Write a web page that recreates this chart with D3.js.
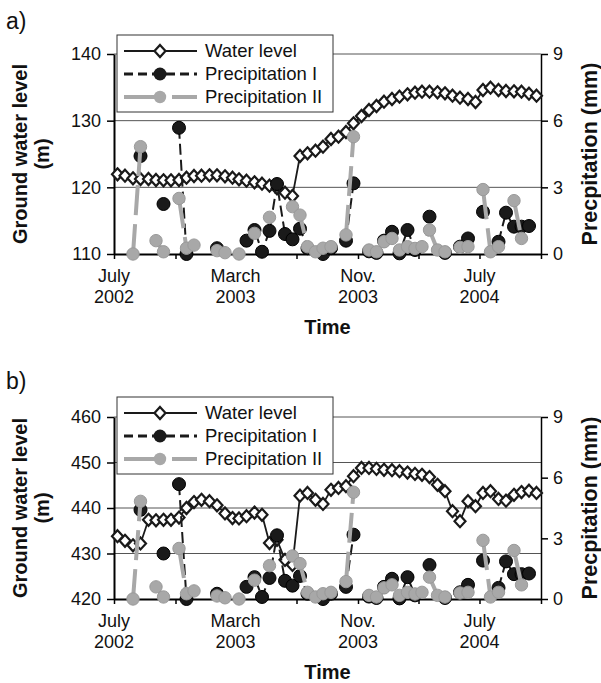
<!DOCTYPE html>
<html>
<head>
<meta charset="utf-8">
<script src="https://cdn.jsdelivr.net/npm/d3@7"></script>
<style>
body { margin: 0; background: #fff; }
text { font-family: "Liberation Sans", Arial, sans-serif; fill: #111; }
</style>
</head>
<body>
<svg id="chart" width="601" height="683"></svg>
<script>
// semi-monthly observation dates
var dates = [
  "2002-07-08","2002-07-23","2002-08-08","2002-08-23","2002-09-08","2002-09-23",
  "2002-10-08","2002-10-23","2002-11-08","2002-11-23","2002-12-08","2002-12-23",
  "2003-01-08","2003-01-23","2003-02-08","2003-02-23","2003-03-08","2003-03-23",
  "2003-04-08","2003-04-23","2003-05-08","2003-05-23","2003-06-08","2003-06-23",
  "2003-07-08","2003-07-23","2003-08-08","2003-08-23","2003-09-08","2003-09-23",
  "2003-10-08","2003-10-23","2003-11-08","2003-11-23","2003-12-08","2003-12-23",
  "2004-01-08","2004-01-23","2004-02-08","2004-02-23","2004-03-08","2004-03-23",
  "2004-04-08","2004-04-23","2004-05-08","2004-05-23","2004-06-08","2004-06-23",
  "2004-07-08","2004-07-23","2004-08-08","2004-08-23","2004-09-08","2004-09-23",
  "2004-10-08","2004-10-23"
];

// ground water level (m)
var levelA = [121.95,121.75,121.35,121.25,121.25,121.1,121.05,121.05,121.1,121.45,
  121.7,121.75,121.8,121.8,121.65,121.45,121.2,121.0,120.75,120.55,
  120.25,119.85,119.2,118.7,124.7,125.1,125.5,126.1,127.25,127.6,
  128.3,129.6,130.7,131.6,132.2,132.85,133.25,133.6,133.95,134.2,
  134.35,134.35,134.25,134.1,133.75,133.45,133.25,132.8,134.6,134.95,
  134.6,134.45,134.4,134.35,134.05,133.75];
var levelB = [433.8,432.8,431.8,432.2,437.4,437.3,437.4,437.4,437.9,440.0,
  441.3,441.8,441.5,440.6,438.8,437.8,437.7,438.2,439.0,438.5,
  432.3,433.0,428.6,427.5,442.7,443.3,441.8,440.9,444.0,444.4,
  444.8,447.0,448.8,448.8,448.6,448.4,448.3,448.1,447.8,447.5,
  447.3,446.8,445.1,443.7,439.3,437.1,441.5,440.4,443.3,443.7,
  442.0,441.6,442.9,443.5,443.8,443.3];

// precipitation (mm), null = no record
var precipI = [null,null,null,4.41,null,null,2.25,null,5.68,0.0,
  null,null,null,0.26,null,null,null,0.6,1.08,0.1,
  1.04,3.15,0.9,0.66,1.14,0.26,null,0.0,0.26,null,
  0.6,3.18,null,0.12,0.05,0.6,1.0,0.03,1.08,0.18,
  null,1.68,null,0.05,null,0.33,0.7,null,1.9,null,
  0.55,1.86,1.23,1.23,1.26,null];
var precipII = [null,null,0,4.83,null,0.6,0.1,null,2.5,0.26,
  0.4,null,null,0.15,0.06,null,0,null,0.93,null,
  1.65,null,null,2.13,1.75,0.33,0.1,0.26,0.33,null,
  0.86,5.28,null,0.18,0.1,0.55,0.7,0.18,0.33,0.25,
  0.33,1.08,0.18,0.1,null,0.3,0.33,null,2.9,0.1,
  0.33,null,2.4,0.7,null,null];

var tickDates = ["2002-07-01","2002-11-01","2003-03-01","2003-07-01","2003-11-01","2004-03-01","2004-07-01","2004-11-01"];
var tickLabels = {"2002-07-01": ["July","2002"], "2003-03-01": ["March","2003"],
                  "2003-11-01": ["Nov.","2003"], "2004-07-01": ["July","2004"]};
var precipTicks = [0, 3, 6, 9];
var legendNames = ["Water level", "Precipitation I", "Precipitation II"];

var parse = d3.timeParse("%Y-%m-%d");
var svg = d3.select("#chart");

var left = 114, right = 541;
var x = d3.scaleTime()
  .domain([parse("2002-07-01"), parse("2004-11-01")])
  .range([left, right]);

var black = "#1a1a1a", grey = "#a8a8a8";
var diamond = "M0,-6L5.5,0L0,6L-5.5,0Z";

function drawPanel(p) {
  var g = svg.append("g");
  var yL = d3.scaleLinear().domain(p.domain).range([p.bottom, p.top]);
  var yR = d3.scaleLinear().domain([0, 9]).range([p.bottom, p.top]);

  g.append("text").attr("x", 6).attr("y", p.labelY)
    .style("font-size", "23px").text(p.label);

  // grid
  g.selectAll(".grid").data(p.ticks.slice(1)).enter().append("line")
    .attr("x1", left).attr("x2", right)
    .attr("y1", d => yL(d)).attr("y2", d => yL(d))
    .attr("stroke", "#555").attr("stroke-width", 1);

  var ax = g.append("g").attr("transform", "translate(" + left + ",0)")
    .call(d3.axisLeft(yL).tickValues(p.ticks).tickSize(7).tickSizeOuter(0).tickPadding(6));
  ax.select(".domain").attr("stroke", "#000").attr("stroke-width", 2);
  ax.selectAll(".tick line").attr("stroke", "#000").attr("stroke-width", 1.5);
  ax.selectAll("text").style("font-size", "18px").attr("fill", "#111");

  var axr = g.append("g").attr("transform", "translate(" + right + ",0)")
    .call(d3.axisRight(yR).tickValues(precipTicks).tickSize(7).tickSizeOuter(0).tickPadding(5));
  axr.select(".domain").attr("stroke", "#000").attr("stroke-width", 1.5);
  axr.selectAll(".tick line").attr("stroke", "#000").attr("stroke-width", 1.5);
  axr.selectAll("text").style("font-size", "18px").attr("fill", "#111");

  var axb = g.append("g").attr("transform", "translate(0," + p.bottom + ")")
    .call(d3.axisBottom(x).tickValues(tickDates.map(parse)).tickSize(5).tickSizeOuter(0).tickFormat(""));
  axb.select(".domain").attr("stroke", "#000").attr("stroke-width", 2);
  axb.selectAll(".tick line").attr("stroke", "#000").attr("stroke-width", 1.5);

  tickDates.forEach(function(t) {
    if (!tickLabels[t]) return;
    var tx = g.append("text").attr("x", x(parse(t))).attr("y", p.bottom + 28)
      .attr("text-anchor", "middle").style("font-size", "18px");
    tx.append("tspan").attr("x", x(parse(t))).text(tickLabels[t][0]);
    tx.append("tspan").attr("x", x(parse(t))).attr("dy", 21).text(tickLabels[t][1]);
  });

  g.append("text").attr("x", (left + right) / 2).attr("y", p.bottom + 80)
    .attr("text-anchor", "middle").style("font-size", "20px").style("font-weight", "bold")
    .text("Time");

  var mid = (p.top + p.bottom) / 2;
  g.append("text").attr("transform", "translate(27," + mid + ") rotate(-90)")
    .attr("text-anchor", "middle").style("font-size", "20px").style("font-weight", "bold")
    .text("Ground water level");
  g.append("text").attr("transform", "translate(49," + mid + ") rotate(-90)")
    .attr("text-anchor", "middle").style("font-size", "20px").style("font-weight", "bold")
    .text("(m)");
  g.append("text").attr("transform", "translate(597," + mid + ") rotate(-90)")
    .attr("text-anchor", "middle").style("font-size", "21.5px").style("font-weight", "bold")
    .text("Precpitation (mm)");

  var wl = dates.map((d, i) => ({d: parse(d), v: p.level[i]}));
  var p1 = dates.map((d, i) => ({d: parse(d), v: precipI[i]}));
  var p2 = dates.map((d, i) => ({d: parse(d), v: precipII[i]}));

  // water level
  g.append("path").datum(wl)
    .attr("d", d3.line().x(d => x(d.d)).y(d => yL(d.v)))
    .attr("fill", "none").attr("stroke", black).attr("stroke-width", 1.8);
  g.selectAll(".dia").data(wl).enter().append("path")
    .attr("transform", d => "translate(" + x(d.d) + "," + yL(d.v) + ")")
    .attr("d", diamond)
    .attr("fill", "#fff").attr("stroke", black).attr("stroke-width", 2.2);

  var pline = d3.line().defined(d => d.v != null).x(d => x(d.d)).y(d => yR(d.v));

  // precipitation I
  g.append("path").datum(p1).attr("d", pline)
    .attr("fill", "none").attr("stroke", black).attr("stroke-width", 2)
    .attr("stroke-dasharray", "11,5");
  g.selectAll(".p1").data(p1.filter(d => d.v != null)).enter().append("circle")
    .attr("cx", d => x(d.d)).attr("cy", d => yR(d.v)).attr("r", 6.5)
    .attr("fill", black).attr("stroke", "#000").attr("stroke-width", 1);

  // precipitation II
  g.append("path").datum(p2).attr("d", pline)
    .attr("fill", "none").attr("stroke", grey).attr("stroke-width", 4)
    .attr("stroke-dasharray", "30,9");
  g.selectAll(".p2").data(p2.filter(d => d.v != null)).enter().append("circle")
    .attr("cx", d => x(d.d)).attr("cy", d => yR(d.v)).attr("r", 6.2)
    .attr("fill", grey).attr("stroke", "#9a9a9a").attr("stroke-width", 1);

  // legend
  var lg = g.append("g").attr("transform", "translate(117," + p.legendY + ")");
  lg.append("rect").attr("width", 216).attr("height", 77)
    .attr("fill", "#fff").attr("stroke", "#333").attr("stroke-width", 1);
  var rows = [16, 39, 62];
  lg.append("line").attr("x1", 7).attr("x2", 80).attr("y1", rows[0]).attr("y2", rows[0])
    .attr("stroke", black).attr("stroke-width", 2);
  lg.append("path").attr("transform", "translate(43," + rows[0] + ")")
    .attr("d", diamond).attr("fill", "#fff").attr("stroke", black).attr("stroke-width", 2.2);
  lg.append("line").attr("x1", 7).attr("x2", 80).attr("y1", rows[1]).attr("y2", rows[1])
    .attr("stroke", black).attr("stroke-width", 3).attr("stroke-dasharray", "9,5");
  lg.append("circle").attr("cx", 43).attr("cy", rows[1]).attr("r", 6.5).attr("fill", black);
  lg.append("line").attr("x1", 7).attr("x2", 80).attr("y1", rows[2]).attr("y2", rows[2])
    .attr("stroke", grey).attr("stroke-width", 4).attr("stroke-dasharray", "40,8");
  lg.append("circle").attr("cx", 43).attr("cy", rows[2]).attr("r", 6.2).attr("fill", grey);
  lg.selectAll(".lt").data(legendNames).enter().append("text")
    .attr("x", 88).attr("y", (d, i) => rows[i]).attr("dy", "0.35em")
    .style("font-size", "18.5px").text(d => d);
}

drawPanel({label: "a)", labelY: 29, top: 54, bottom: 254, domain: [110, 140],
  ticks: [110, 120, 130, 140], level: levelA, legendY: 35});
drawPanel({label: "b)", labelY: 389, top: 417, bottom: 599, domain: [420, 460],
  ticks: [420, 430, 440, 450, 460], level: levelB, legendY: 397});
</script>
</body>
</html>
